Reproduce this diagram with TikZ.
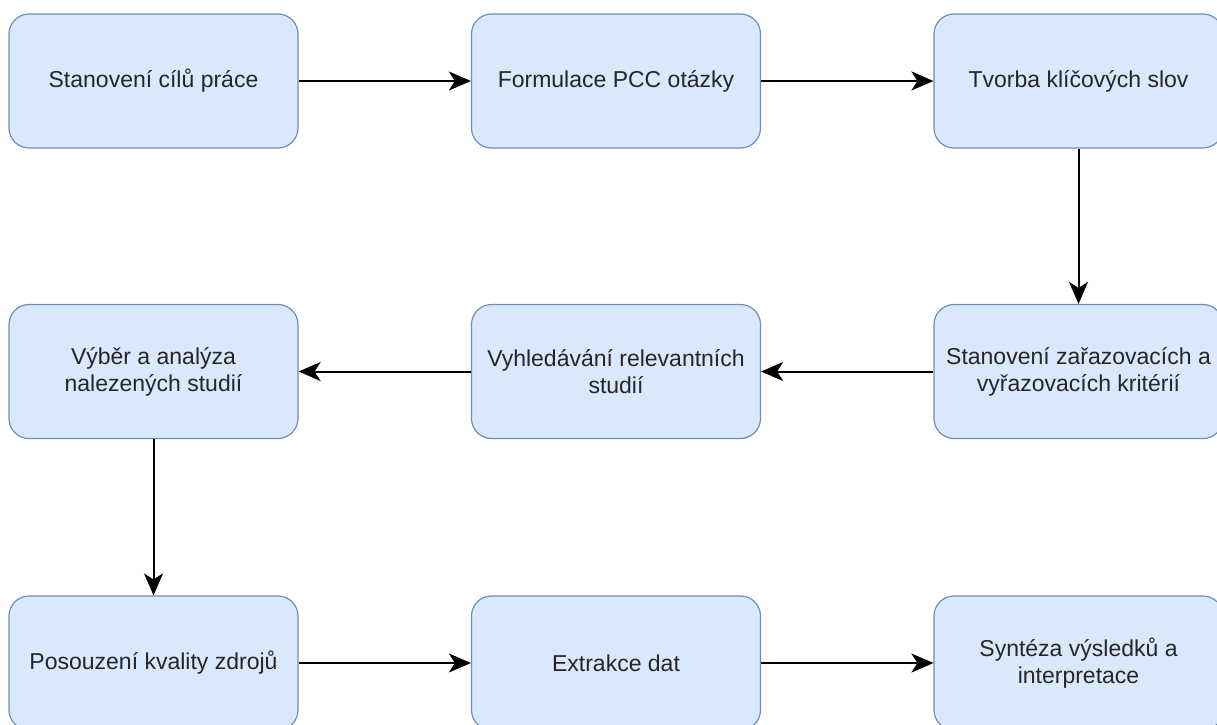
\documentclass[tikz,border=0pt]{standalone}
\usepackage{fontspec}
\setmainfont{Liberation Sans}
\usetikzlibrary{arrows.meta}
\definecolor{boxfill}{HTML}{DAE8FC}
\definecolor{boxline}{HTML}{6C8EBF}
\tikzset{
  stepbox/.style={draw=boxline, fill=boxfill, line width=1.2pt, rounded corners=20pt,
    minimum width=289pt, minimum height=134pt, align=center, font=\fontsize{23}{27}\selectfont,
    text=black!85},
  flow/.style={-{Stealth[length=22pt,width=19pt,inset=6pt]}, line width=2pt}
}
\begin{document}
\begin{tikzpicture}[x=1pt,y=-1pt]
  \useasboundingbox (0,0) rectangle (1217,724);
  \node[stepbox] (cile) at (153.5,81) {Stanovení cílů práce};
  \node[stepbox] (pcc) at (616,81) {Formulace PCC otázky};
  \node[stepbox] (slova) at (1078.5,81) {Tvorba klíčových slov};

  \node[stepbox] (kriteria) at (1078.5,371.5) {Stanovení zařazovacích a\\vyřazovacích kritérií};
  \node[stepbox] (hledani) at (616,371.5) {Vyhledávání relevantních\\studií};
  \node[stepbox] (vyber) at (153.5,371.5) {Výběr a analýza\\nalezených studií};

  \node[stepbox] (kvalita) at (153.5,663) {Posouzení kvality zdrojů};
  \node[stepbox] (data) at (616,663) {Extrakce dat};
  \node[stepbox] (synteza) at (1078.5,663) {Syntéza výsledků a\\interpretace};

  \draw[flow] (cile) -- (pcc);
  \draw[flow] (pcc) -- (slova);
  \draw[flow] (slova) -- (kriteria);
  \draw[flow] (kriteria) -- (hledani);
  \draw[flow] (hledani) -- (vyber);
  \draw[flow] (vyber) -- (kvalita);
  \draw[flow] (kvalita) -- (data);
  \draw[flow] (data) -- (synteza);
\end{tikzpicture}
\end{document}
